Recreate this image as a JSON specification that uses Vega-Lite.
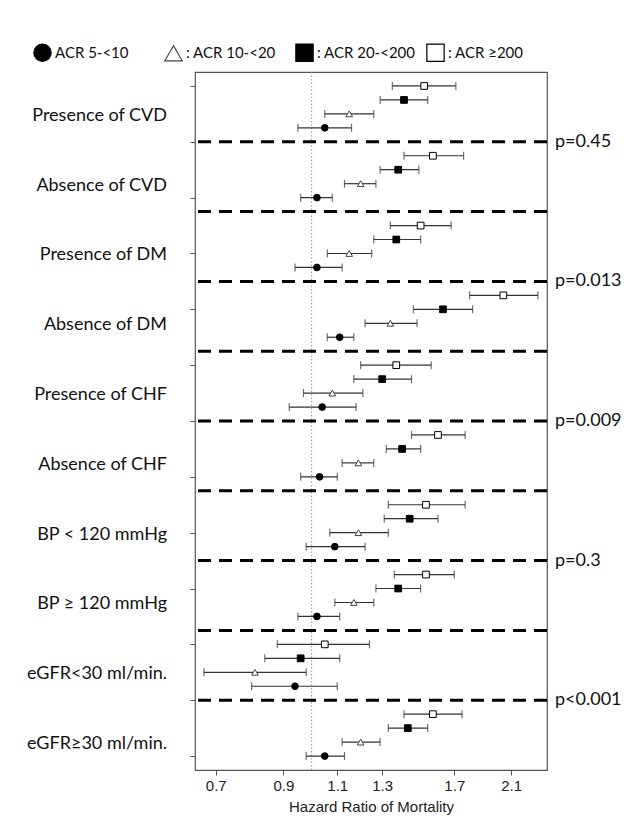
{
  "$schema": "https://vega.github.io/schema/vega-lite/v6.json",
  "width": 352,
  "height": 698,
  "autosize": {"type": "none"},
  "padding": {"left": 195, "top": 72, "right": 94, "bottom": 55},
  "background": "white",
  "config": {
    "view": {"stroke": "#555", "strokeWidth": 1.2},
    "axis": {"grid": false}
  },
  "datasets": {
    "hr": [
      {"group": "Presence of CVD", "gi": 0, "acr": "ACR ≥200", "hr": 1.52, "lo": 1.35, "hi": 1.71},
      {"group": "Presence of CVD", "gi": 0, "acr": "ACR 20-<200", "hr": 1.41, "lo": 1.29, "hi": 1.54},
      {"group": "Presence of CVD", "gi": 0, "acr": "ACR 10-<20", "hr": 1.15, "lo": 1.05, "hi": 1.26},
      {"group": "Presence of CVD", "gi": 0, "acr": "ACR 5-<10", "hr": 1.05, "lo": 0.95, "hi": 1.16},
      {"group": "Absence of CVD", "gi": 1, "acr": "ACR ≥200", "hr": 1.57, "lo": 1.41, "hi": 1.76},
      {"group": "Absence of CVD", "gi": 1, "acr": "ACR 20-<200", "hr": 1.38, "lo": 1.29, "hi": 1.49},
      {"group": "Absence of CVD", "gi": 1, "acr": "ACR 10-<20", "hr": 1.20, "lo": 1.13, "hi": 1.27},
      {"group": "Absence of CVD", "gi": 1, "acr": "ACR 5-<10", "hr": 1.02, "lo": 0.96, "hi": 1.08},
      {"group": "Presence of DM", "gi": 2, "acr": "ACR ≥200", "hr": 1.50, "lo": 1.34, "hi": 1.68},
      {"group": "Presence of DM", "gi": 2, "acr": "ACR 20-<200", "hr": 1.37, "lo": 1.26, "hi": 1.50},
      {"group": "Presence of DM", "gi": 2, "acr": "ACR 10-<20", "hr": 1.15, "lo": 1.06, "hi": 1.25},
      {"group": "Presence of DM", "gi": 2, "acr": "ACR 5-<10", "hr": 1.02, "lo": 0.94, "hi": 1.12},
      {"group": "Absence of DM", "gi": 3, "acr": "ACR ≥200", "hr": 2.04, "lo": 1.80, "hi": 2.32},
      {"group": "Absence of DM", "gi": 3, "acr": "ACR 20-<200", "hr": 1.63, "lo": 1.46, "hi": 1.82},
      {"group": "Absence of DM", "gi": 3, "acr": "ACR 10-<20", "hr": 1.34, "lo": 1.22, "hi": 1.48},
      {"group": "Absence of DM", "gi": 3, "acr": "ACR 5-<10", "hr": 1.11, "lo": 1.06, "hi": 1.17},
      {"group": "Presence of CHF", "gi": 4, "acr": "ACR ≥200", "hr": 1.37, "lo": 1.20, "hi": 1.56},
      {"group": "Presence of CHF", "gi": 4, "acr": "ACR 20-<200", "hr": 1.30, "lo": 1.17, "hi": 1.45},
      {"group": "Presence of CHF", "gi": 4, "acr": "ACR 10-<20", "hr": 1.08, "lo": 0.97, "hi": 1.21},
      {"group": "Presence of CHF", "gi": 4, "acr": "ACR 5-<10", "hr": 1.04, "lo": 0.92, "hi": 1.18},
      {"group": "Absence of CHF", "gi": 5, "acr": "ACR ≥200", "hr": 1.60, "lo": 1.45, "hi": 1.77},
      {"group": "Absence of CHF", "gi": 5, "acr": "ACR 20-<200", "hr": 1.40, "lo": 1.32, "hi": 1.50},
      {"group": "Absence of CHF", "gi": 5, "acr": "ACR 10-<20", "hr": 1.19, "lo": 1.12, "hi": 1.26},
      {"group": "Absence of CHF", "gi": 5, "acr": "ACR 5-<10", "hr": 1.03, "lo": 0.96, "hi": 1.10},
      {"group": "BP < 120 mmHg", "gi": 6, "acr": "ACR ≥200", "hr": 1.53, "lo": 1.33, "hi": 1.77},
      {"group": "BP < 120 mmHg", "gi": 6, "acr": "ACR 20-<200", "hr": 1.44, "lo": 1.31, "hi": 1.60},
      {"group": "BP < 120 mmHg", "gi": 6, "acr": "ACR 10-<20", "hr": 1.19, "lo": 1.07, "hi": 1.33},
      {"group": "BP < 120 mmHg", "gi": 6, "acr": "ACR 5-<10", "hr": 1.09, "lo": 0.98, "hi": 1.22},
      {"group": "BP ≥ 120 mmHg", "gi": 7, "acr": "ACR ≥200", "hr": 1.53, "lo": 1.36, "hi": 1.70},
      {"group": "BP ≥ 120 mmHg", "gi": 7, "acr": "ACR 20-<200", "hr": 1.38, "lo": 1.27, "hi": 1.50},
      {"group": "BP ≥ 120 mmHg", "gi": 7, "acr": "ACR 10-<20", "hr": 1.17, "lo": 1.09, "hi": 1.26},
      {"group": "BP ≥ 120 mmHg", "gi": 7, "acr": "ACR 5-<10", "hr": 1.02, "lo": 0.95, "hi": 1.11},
      {"group": "eGFR<30 ml/min.", "gi": 8, "acr": "ACR ≥200", "hr": 1.05, "lo": 0.88, "hi": 1.24},
      {"group": "eGFR<30 ml/min.", "gi": 8, "acr": "ACR 20-<200", "hr": 0.96, "lo": 0.84, "hi": 1.11},
      {"group": "eGFR<30 ml/min.", "gi": 8, "acr": "ACR 10-<20", "hr": 0.81, "lo": 0.67, "hi": 0.98},
      {"group": "eGFR<30 ml/min.", "gi": 8, "acr": "ACR 5-<10", "hr": 0.94, "lo": 0.80, "hi": 1.10},
      {"group": "eGFR≥30 ml/min.", "gi": 9, "acr": "ACR ≥200", "hr": 1.57, "lo": 1.41, "hi": 1.75},
      {"group": "eGFR≥30 ml/min.", "gi": 9, "acr": "ACR 20-<200", "hr": 1.43, "lo": 1.33, "hi": 1.54},
      {"group": "eGFR≥30 ml/min.", "gi": 9, "acr": "ACR 10-<20", "hr": 1.20, "lo": 1.12, "hi": 1.29},
      {"group": "eGFR≥30 ml/min.", "gi": 9, "acr": "ACR 5-<10", "hr": 1.05, "lo": 0.98, "hi": 1.13}
    ],
    "sep": [
      {"gi": 0, "p": "p=0.45"},
      {"gi": 1, "p": null},
      {"gi": 2, "p": "p=0.013"},
      {"gi": 3, "p": null},
      {"gi": 4, "p": "p=0.009"},
      {"gi": 5, "p": null},
      {"gi": 6, "p": "p=0.3"},
      {"gi": 7, "p": null},
      {"gi": 8, "p": "p<0.001"}
    ],
    "ref": [{"ref": 1}]
  },
  "layer": [
    {
      "data": {"name": "ref"},
      "mark": {"type": "rule", "color": "#999", "strokeDash": [1.5, 2], "strokeWidth": 1},
      "encoding": {
        "x": {
          "field": "ref", "type": "quantitative",
          "scale": {"type": "log", "domain": [0.648, 2.4], "nice": false},
          "title": "Hazard Ratio of Mortality",
          "axis": {
            "values": [0.7, 0.9, 1.1, 1.3, 1.7, 2.1],
            "format": ".1f",
            "domain": false,
            "tickSize": 5,
            "tickColor": "#555",
            "labelFont": "Liberation Sans",
            "labelFontSize": 15,
            "labelColor": "#222",
            "labelPadding": 3,
            "labelFlush": false,
            "labelOverlap": false,
            "titleFont": "Liberation Sans",
            "titleFontSize": 15,
            "titleFontWeight": "normal",
            "titleColor": "#222",
            "titlePadding": 6
          }
        }
      }
    },
    {
      "data": {"name": "sep"},
      "transform": [{"calculate": "datum.gi * 5 + 5", "as": "row"}],
      "mark": {"type": "rule", "color": "black", "strokeWidth": 3, "strokeDash": [13, 8]},
      "encoding": {
        "y": {
          "field": "row", "type": "quantitative", "title": null,
          "scale": {"domain": [0, 50], "reverse": true, "nice": false, "zero": false},
          "axis": {
            "values": [1,2,3,4,5,6,7,8,9,10,11,12,13,14,15,16,17,18,19,20,21,22,23,24,25,26,27,28,29,30,31,32,33,34,35,36,37,38,39,40,41,42,43,44,45,46,47,48,49],
            "labels": false,
            "domain": false,
            "tickSize": 5,
            "tickColor": "#555"
          }
        }
      }
    },
    {
      "data": {"name": "sep"},
      "transform": [{"filter": "datum.p != null"}, {"calculate": "datum.gi * 5 + 5", "as": "row"}],
      "mark": {"type": "text", "align": "left", "baseline": "middle", "dx": 8, "font": "Lato", "fontSize": 18, "color": "#111"},
      "encoding": {
        "x": {"value": "width"},
        "y": {"field": "row", "type": "quantitative", "title": null, "scale": {"domain": [0, 50], "reverse": true, "nice": false, "zero": false}},
        "text": {"field": "p", "type": "nominal"}
      }
    },
    {
      "data": {"name": "hr"},
      "transform": [{"calculate": "datum.gi * 5 + indexof(['ACR ≥200','ACR 20-<200','ACR 10-<20','ACR 5-<10'], datum.acr) + 1", "as": "row"}],
      "layer": [
        {
          "transform": [{"filter": "datum.acr == 'ACR 10-<20'"}],
          "mark": {"type": "text", "align": "right", "baseline": "middle", "dx": -28, "dy": 2, "font": "Lato", "fontSize": 18, "color": "#111"},
          "encoding": {
            "x": {"value": 0},
            "y": {"field": "row", "type": "quantitative", "title": null, "scale": {"domain": [0, 50], "reverse": true, "nice": false, "zero": false}},
            "text": {"field": "group", "type": "nominal"}
          }
        },
        {
          "mark": {"type": "rule", "color": "#333", "strokeWidth": 1.2},
          "encoding": {
            "x": {"field": "lo", "type": "quantitative", "scale": {"type": "log", "domain": [0.648, 2.4], "nice": false}, "title": "Hazard Ratio of Mortality"},
            "x2": {"field": "hi"},
            "y": {"field": "row", "type": "quantitative", "title": null, "scale": {"domain": [0, 50], "reverse": true, "nice": false, "zero": false}}
          }
        },
        {
          "mark": {"type": "tick", "orient": "vertical", "size": 8, "thickness": 1.2, "color": "#333"},
          "encoding": {
            "x": {"field": "lo", "type": "quantitative", "scale": {"type": "log", "domain": [0.648, 2.4], "nice": false}, "title": "Hazard Ratio of Mortality"},
            "y": {"field": "row", "type": "quantitative", "title": null, "scale": {"domain": [0, 50], "reverse": true, "nice": false, "zero": false}}
          }
        },
        {
          "mark": {"type": "tick", "orient": "vertical", "size": 8, "thickness": 1.2, "color": "#333"},
          "encoding": {
            "x": {"field": "hi", "type": "quantitative", "scale": {"type": "log", "domain": [0.648, 2.4], "nice": false}, "title": "Hazard Ratio of Mortality"},
            "y": {"field": "row", "type": "quantitative", "title": null, "scale": {"domain": [0, 50], "reverse": true, "nice": false, "zero": false}}
          }
        },
        {
          "mark": {"type": "point", "filled": true, "size": 45, "strokeWidth": 1, "opacity": 1},
          "encoding": {
            "x": {"field": "hr", "type": "quantitative", "scale": {"type": "log", "domain": [0.648, 2.4], "nice": false}, "title": "Hazard Ratio of Mortality"},
            "y": {"field": "row", "type": "quantitative", "title": null, "scale": {"domain": [0, 50], "reverse": true, "nice": false, "zero": false}},
            "shape": {
              "field": "acr", "type": "nominal",
              "scale": {"domain": ["ACR 5-<10", "ACR 10-<20", "ACR 20-<200", "ACR ≥200"], "range": ["circle", "triangle-up", "square", "square"]},
              "legend": {
                "title": null,
                "orient": "none",
                "legendX": -162,
                "legendY": -29,
                "direction": "horizontal",
                "columns": 4,
                "gridAlign": "all",
                "columnPadding": 8,
                "padding": 0,
                "symbolSize": 300,
                "symbolStrokeWidth": 1.2,
                "labelFont": "Lato",
                "labelFontSize": 15,
                "labelColor": "#111",
                "labelOffset": 3,
                "labelLimit": 200,
                "labelExpr": "datum.value == 'ACR 5-<10' ? datum.value : ': ' + datum.value"
              }
            },
            "stroke": {
              "field": "acr", "type": "nominal",
              "scale": {"domain": ["ACR 5-<10", "ACR 10-<20", "ACR 20-<200", "ACR ≥200"], "range": ["black", "#444", "black", "black"]}
            },
            "fill": {
              "field": "acr", "type": "nominal",
              "scale": {"domain": ["ACR 5-<10", "ACR 10-<20", "ACR 20-<200", "ACR ≥200"], "range": ["black", "white", "black", "white"]}
            }
          }
        }
      ]
    }
  ]
}
